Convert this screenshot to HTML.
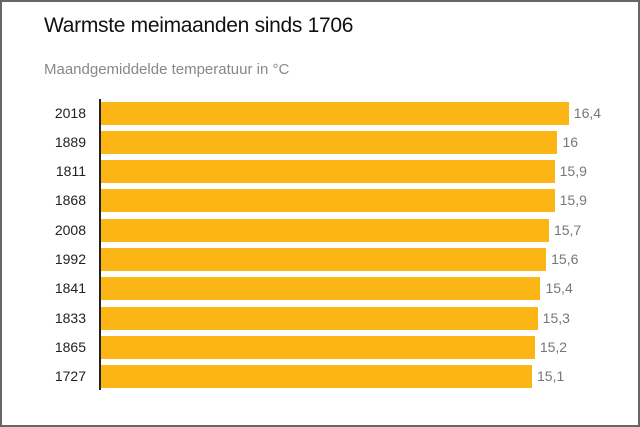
<!DOCTYPE html><html><head><style>
body{margin:0;width:640px;height:427px;background:#fff;font-family:"Liberation Sans",sans-serif;position:relative;overflow:hidden}
.frame{position:absolute;left:0;top:0;width:636px;height:423px;border:2px solid #666}
.t{position:absolute;left:44px;top:14px;font-size:21px;color:#111;letter-spacing:-0.3px}
.s{position:absolute;left:44px;top:61px;font-size:15px;color:#888}
.ax{position:absolute;left:99px;top:99px;width:2px;height:291px;background:#222}
.r{position:absolute;height:23px}
.b{position:absolute;left:101px;height:23px;background:#FBB616}
.y{position:absolute;width:86px;left:0;text-align:right;font-size:14px;color:#222;line-height:23px}
.v{position:absolute;font-size:14px;color:#777;line-height:23px}
</style></head><body><div class="frame"></div>
<div class="t">Warmste meimaanden sinds 1706</div>
<div class="s">Maandgemiddelde temperatuur in °C</div>
<div class="ax"></div>
<div id="c"></div>
<script>
var d=[["2018",16.4,"16,4"],["1889",16,"16"],["1811",15.9,"15,9"],["1868",15.9,"15,9"],["2008",15.7,"15,7"],["1992",15.6,"15,6"],["1841",15.4,"15,4"],["1833",15.3,"15,3"],["1865",15.2,"15,2"],["1727",15.1,"15,1"]];
var h="";d.forEach(function(e,i){var top=101.5+i*29.3;var w=431+(e[1]-15.1)*28.3;
h+='<div class="y" style="top:'+top+'px">'+e[0]+'</div><div class="b" style="top:'+top+'px;width:'+w+'px"></div><div class="v" style="top:'+top+'px;left:'+(101+w+5)+'px">'+e[2]+'</div>';});
document.getElementById("c").innerHTML=h;
</script></body></html>
